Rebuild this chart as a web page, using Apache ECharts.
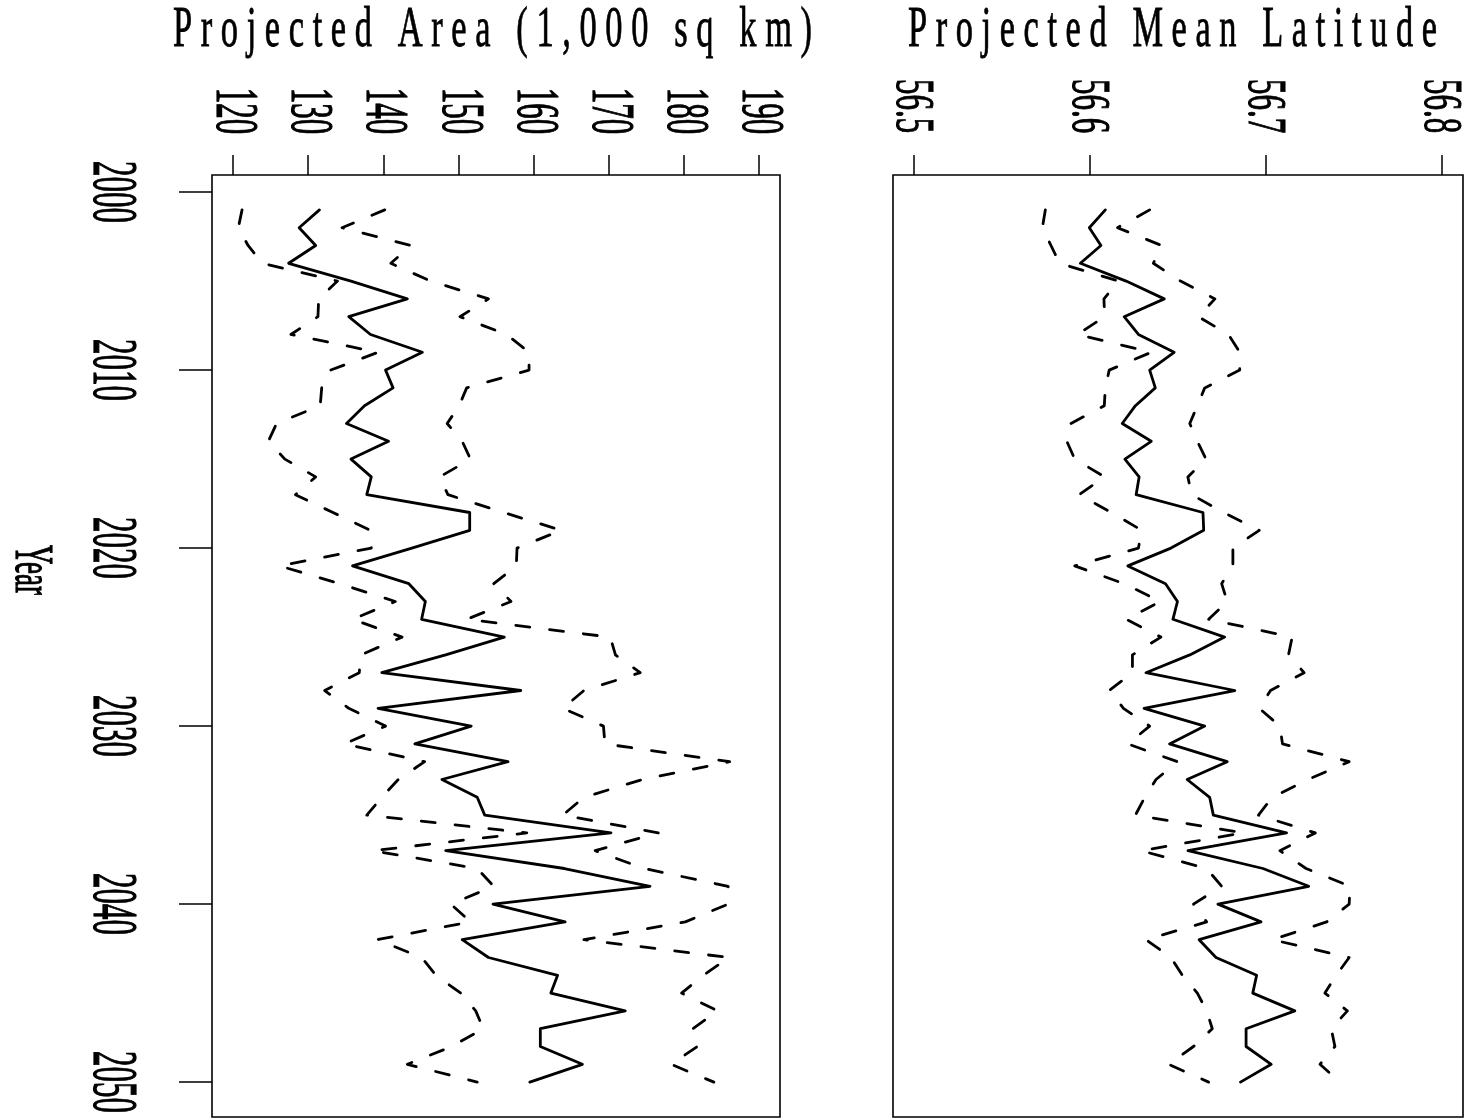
<!DOCTYPE html>
<html>
<head>
<meta charset="utf-8">
<title>Projected Area and Mean Latitude</title>
<script src="https://cdn.jsdelivr.net/npm/echarts@6/dist/echarts.min.js"></script>
<style>
  html, body { margin: 0; padding: 0; background: #fff; }
  #chart { width: 1466px; height: 1118px; }
</style>
</head>
<body>
<div id="chart"></div>
<script>
// years on the (vertical) time axis
const years = [
  2001, 2002, 2003, 2004, 2005, 2006, 2007, 2008, 2009, 2010,
  2011, 2012, 2013, 2014, 2015, 2016, 2017, 2018, 2019, 2020,
  2021, 2022, 2023, 2024, 2025, 2026, 2027, 2028, 2029, 2030,
  2031, 2032, 2033, 2034, 2035, 2036, 2037, 2038, 2039, 2040,
  2041, 2042, 2043, 2044, 2045, 2046, 2047, 2048, 2049, 2050
];

// projected area (1,000 sq km): mean, lower and upper bounds
const areaMean = [
  131.5, 128.8, 131.0, 127.4, 135.7, 143.2, 135.4, 138.3, 145.2, 140.3,
  141.3, 137.5, 135.1, 140.7, 135.7, 138.4, 137.8, 151.5, 151.5, 143.8,
  135.9, 143.4, 145.6, 145.1, 156.1, 148.3, 139.8, 158.3, 139.3, 151.7,
  144.2, 156.6, 147.8, 152.5, 153.5, 170.3, 148.3, 164.1, 175.5, 154.6,
  164.2, 150.5, 154.0, 163.2, 162.3, 172.2, 160.9, 160.9, 166.5, 159.5
];
const areaLow = [
  121.2, 120.7, 122.0, 123.9, 133.9, 131.4, 131.3, 127.7, 139.3, 133.0,
  131.8, 131.6, 125.8, 124.7, 126.9, 131.0, 128.3, 133.3, 138.3, 138.4,
  126.2, 134.2, 141.6, 135.9, 142.5, 137.0, 136.8, 132.2, 135.4, 140.3,
  134.8, 145.5, 142.0, 139.8, 137.8, 159.1, 138.6, 152.5, 154.7, 149.0,
  151.6, 139.2, 145.1, 147.0, 150.3, 152.3, 153.3, 149.1, 143.2, 152.5
];
const areaHigh = [
  140.2, 134.5, 143.7, 141.0, 146.3, 154.0, 150.2, 156.4, 159.4, 159.4,
  151.1, 150.1, 148.5, 150.5, 151.6, 147.5, 148.6, 156.0, 163.7, 157.8,
  157.7, 154.7, 157.0, 151.1, 170.2, 170.9, 174.2, 166.7, 163.9, 169.3,
  169.5, 186.1, 174.5, 166.7, 163.9, 176.6, 168.2, 174.7, 185.9, 185.9,
  180.2, 166.7, 186.0, 182.6, 179.7, 184.5, 181.2, 181.8, 178.3, 184.0
];

// projected mean latitude: mean, lower and upper bounds
const latMean = [
  56.6087, 56.5996, 56.6062, 56.5945, 56.6205, 56.6422, 56.6194, 56.6275, 56.6478, 56.6339,
  56.6371, 56.6258, 56.6183, 56.6348, 56.6198, 56.6279, 56.6262, 56.6642, 56.6646, 56.6460,
  56.6215, 56.6429, 56.6497, 56.6471, 56.6765, 56.6567, 56.6318, 56.6823, 56.6307, 56.6652,
  56.6452, 56.6780, 56.6552, 56.6680, 56.6701, 56.7117, 56.6557, 56.6983, 56.7243, 56.6727,
  56.6972, 56.6620, 56.6716, 56.6947, 56.6925, 56.7164, 56.6887, 56.6887, 56.7030, 56.6855
];
const latLow = [
  56.5746, 56.5729, 56.5778, 56.5827, 56.6162, 56.6079, 56.6083, 56.5928, 56.6348, 56.6109,
  56.6087, 56.6081, 56.5891, 56.5868, 56.5913, 56.6083, 56.5938, 56.6120, 56.6294, 56.6275,
  56.5913, 56.6194, 56.6400, 56.6205, 56.6403, 56.6241, 56.6241, 56.6109, 56.6190, 56.6339,
  56.6215, 56.6497, 56.6375, 56.6311, 56.6258, 56.6872, 56.6290, 56.6663, 56.6748, 56.6588,
  56.6663, 56.6318, 56.6460, 56.6525, 56.6610, 56.6663, 56.6695, 56.6588, 56.6446, 56.6674
];
const latHigh = [
  56.6339, 56.6156, 56.6407, 56.6360, 56.6514, 56.6710, 56.6616, 56.6787, 56.6851, 56.6851,
  56.6652, 56.6610, 56.6567, 56.6610, 56.6659, 56.6556, 56.6578, 56.6759, 56.6962, 56.6812,
  56.6812, 56.6748, 56.6780, 56.6674, 56.7149, 56.7128, 56.7217, 56.7026, 56.6962, 56.7079,
  56.7094, 56.7473, 56.7239, 56.7036, 56.6957, 56.7281, 56.7079, 56.7228, 56.7478, 56.7473,
  56.7345, 56.7036, 56.7473, 56.7399, 56.7335, 56.7463, 56.7371, 56.7392, 56.7307, 56.7420
];

// tick labels
const areaTicks = [120, 130, 140, 150, 160, 170, 180, 190];
const latTicks = [56.5, 56.6, 56.7, 56.8];
const yearTicks = [2000, 2010, 2020, 2030, 2040, 2050];

const FONT = 'Liberation Serif';
const dashed = [14, 20];

const chart = echarts.init(document.getElementById('chart'));

function lineSeries (xi, xs, type) {
  return {
    type: 'line',
    xAxisIndex: xi,
    yAxisIndex: xi,
    data: years.map((y, i) => [xs[i], y]),
    symbol: 'none',
    silent: true,
    lineStyle: { color: '#000', width: 2.8, type: type, join: 'round', cap: 'round' }
  };
}

const tickStyle = { color: '#000', width: 1.5 };

chart.setOption({
  animation: false,
  backgroundColor: '#fff',
  grid: [
    { left: 212, top: 175, width: 568, height: 942, show: true, borderColor: '#000', borderWidth: 1.6 },
    { left: 893, top: 175, width: 570, height: 942, show: true, borderColor: '#000', borderWidth: 1.6 }
  ],
  xAxis: [
    {
      type: 'value', gridIndex: 0, position: 'top', min: 117.2, max: 192.8,
      axisLine: { show: false },
      axisTick: { show: true, inside: false, length: 20, customValues: areaTicks, lineStyle: tickStyle },
      axisLabel: { show: false },
      splitLine: { show: false }
    },
    {
      type: 'value', gridIndex: 1, position: 'top', min: 56.488, max: 56.812,
      axisLine: { show: false },
      axisTick: { show: true, inside: false, length: 20, customValues: latTicks, lineStyle: tickStyle },
      axisLabel: { show: false },
      splitLine: { show: false }
    }
  ],
  yAxis: [
    {
      type: 'value', gridIndex: 0, inverse: true, min: 1999.04, max: 2051.96,
      axisLine: { show: false },
      axisTick: { show: true, inside: false, length: 33, customValues: yearTicks, lineStyle: tickStyle },
      axisLabel: { show: false },
      splitLine: { show: false }
    },
    {
      type: 'value', gridIndex: 1, inverse: true, min: 1999.04, max: 2051.96,
      axisLine: { show: false },
      axisTick: { show: false },
      axisLabel: { show: false },
      splitLine: { show: false }
    }
  ],
  series: [
    lineSeries(0, areaMean, 'solid'),
    lineSeries(0, areaLow, dashed),
    lineSeries(0, areaHigh, dashed),
    lineSeries(1, latMean, 'solid'),
    lineSeries(1, latLow, dashed),
    lineSeries(1, latHigh, dashed)
  ]
});

// tall, narrow rotated labels (the original figure was stretched sideways)
function rotLabel (text, x, y, size, stretch) {
  return {
    type: 'text', x: x, y: y, rotation: -Math.PI / 2, scaleY: stretch, silent: true,
    style: {
      text: text, fontSize: size, fontFamily: FONT, fill: '#000',
      stroke: '#000', lineWidth: 0.6,
      align: 'center', verticalAlign: 'middle', textAlign: 'center', textVerticalAlign: 'middle'
    }
  };
}

// letter-spaced title squeezed to the width it takes in the original
const measureCtx = document.createElement('canvas').getContext('2d');
function spacedTitle (words, x, width) {
  const str = words.map(w => w.split('').join(' ')).join('   ');
  measureCtx.font = '58px "' + FONT + '"';
  const w = measureCtx.measureText(str).width;
  return {
    type: 'text', x: x, y: 31, scaleX: width / w, silent: true,
    style: {
      text: str, fontSize: 58, fontFamily: FONT, fill: '#000',
      stroke: '#000', lineWidth: 0.8,
      align: 'left', verticalAlign: 'middle', textAlign: 'left', textVerticalAlign: 'middle'
    }
  };
}

const graphics = [];
areaTicks.forEach(v => {
  graphics.push(rotLabel(String(v), chart.convertToPixel({ xAxisIndex: 0 }, v), 111, 31, 1.95));
});
latTicks.forEach(v => {
  graphics.push(rotLabel(v.toFixed(1), chart.convertToPixel({ xAxisIndex: 1 }, v) - 2, 106, 31, 1.8));
});
yearTicks.forEach(v => {
  graphics.push(rotLabel(String(v), 111, chart.convertToPixel({ yAxisIndex: 0 }, v), 31, 2.05));
});
graphics.push(rotLabel('Year', 30, 570, 27, 2.0));
graphics.push(spacedTitle(['Projected', 'Area', '(1,000', 'sq', 'km)'], 173, 639));
graphics.push(spacedTitle(['Projected', 'Mean', 'Latitude'], 908, 529));

chart.setOption({ graphic: graphics });
</script>
</body>
</html>
